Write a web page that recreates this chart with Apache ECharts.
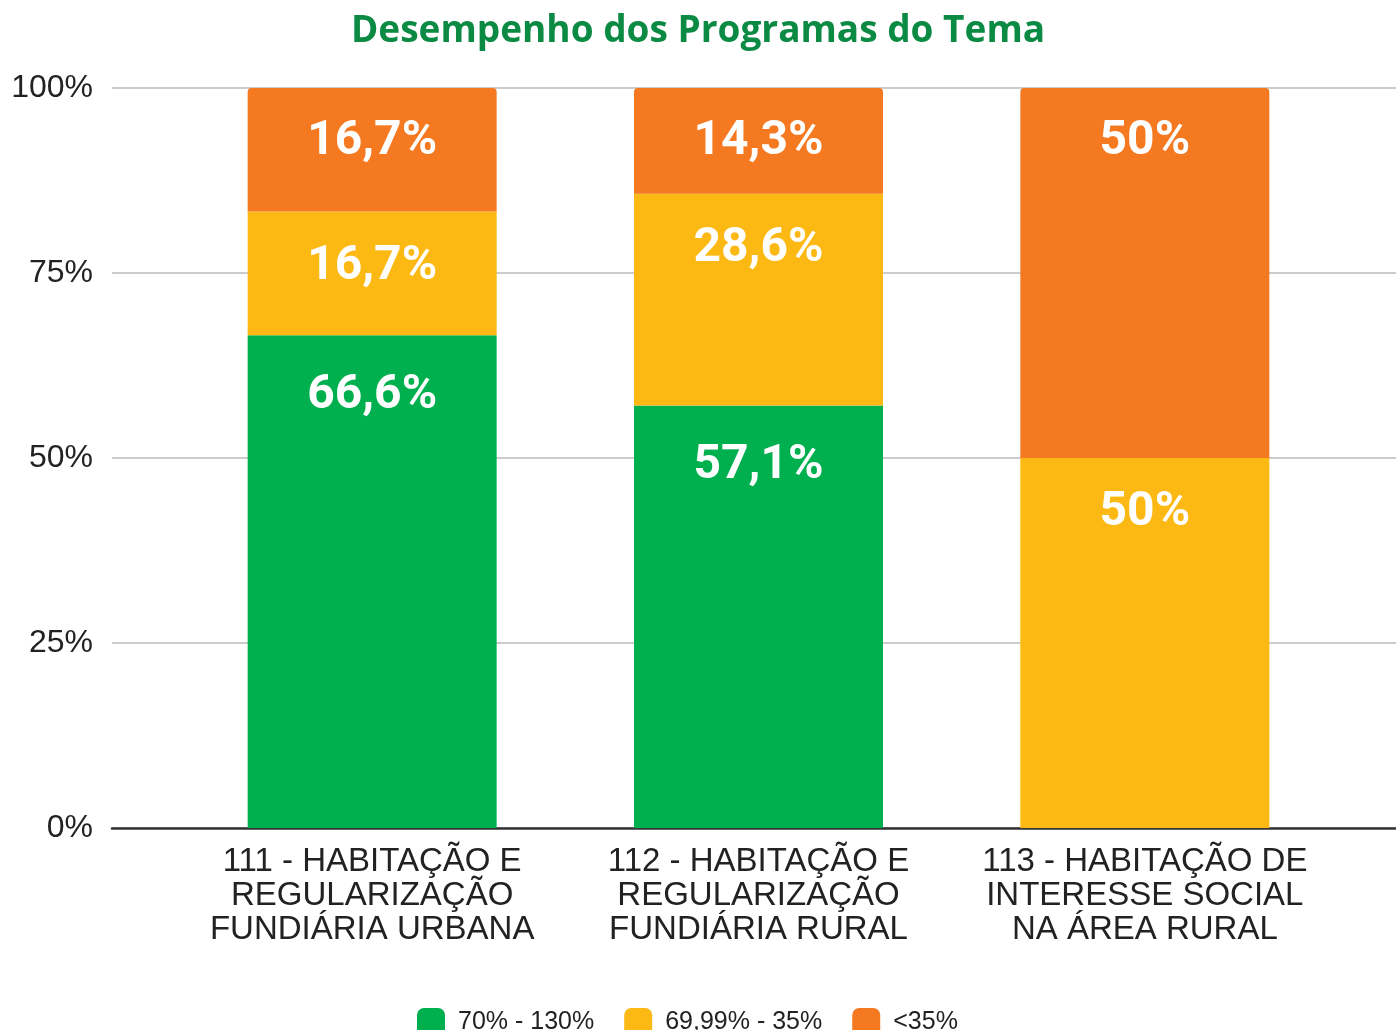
<!DOCTYPE html>
<html>
<head>
<meta charset="utf-8">
<title>Desempenho dos Programas do Tema</title>
<script src="https://cdn.jsdelivr.net/npm/echarts@6/dist/echarts.min.js"></script>
<style>
  html, body { margin: 0; padding: 0; background: #fff; }
  #chart { width: 1396px; height: 1030px; }
</style>
</head>
<body>
<div id="chart"></div>
<script>
const programas = [
  '111 - HABITAÇÃO E\nREGULARIZAÇÃO\nFUNDIÁRIA URBANA',
  '112 - HABITAÇÃO E\nREGULARIZAÇÃO\nFUNDIÁRIA RURAL',
  '113 - HABITAÇÃO DE\nINTERESSE SOCIAL\nNA ÁREA RURAL'
]
const faixas = ['70% - 130%', '69,99% - 35%', '<35%']
const verde = [66.6, 57.1, 0]
const amarelo = [16.7, 28.6, 50]
const laranja = [16.7, 14.3, 50]
const yTicks = [0, 25, 50, 75, 100]

const cores = ['#00b04f', '#fdb913', '#f47920']

const chart = echarts.init(document.getElementById('chart'))

function fmt(v) {
  return String(v).replace('.', ',') + '%'
}

function serie(name, data, color, dist, radius) {
  return {
    name: name,
    type: 'bar',
    stack: 'total',
    xAxisIndex: 1,
    yAxisIndex: 1,
    barWidth: 249,
    data: data,
    itemStyle: { color: color, borderRadius: radius },
    label: {
      show: true,
      position: 'insideTop',
      distance: dist,
      color: '#fff',
      fontFamily: 'Roboto',
      fontWeight: 'bold',
      fontSize: 48,
      lineHeight: 48,
      formatter: p => (p.value > 0 ? fmt(p.value) : '')
    },
    emphasis: { disabled: true }
  }
}

chart.setOption({
  animation: false,
  title: {
    text: 'Desempenho dos Programas do Tema',
    left: 'center',
    top: 8,
    textStyle: { color: '#0b8a43', fontFamily: 'Open Sans', fontWeight: 'bold', fontSize: 37 }
  },
  legend: {
    data: faixas,
    left: 417,
    top: 1008,
    padding: 0,
    itemWidth: 28,
    itemHeight: 28,
    itemGap: 30,
    icon: 'roundRect',
    textStyle: { color: '#222', fontFamily: 'Liberation Sans', fontSize: 25, padding: [0, 0, 0, 8] }
  },
  grid: [
    { left: 112, right: 0, top: 88, bottom: 202 },
    { left: 179, right: 58, top: 88, bottom: 202 }
  ],
  xAxis: [
    {
      type: 'category',
      gridIndex: 0,
      data: [''],
      axisLine: { lineStyle: { color: '#333', width: 2.5 } },
      axisTick: { show: false },
      axisLabel: { show: false }
    },
    {
      type: 'category',
      gridIndex: 1,
      data: programas,
      axisLine: { show: false },
      axisTick: { show: false },
      axisLabel: {
        interval: 0,
        margin: 17,
        color: '#222',
        fontFamily: 'Liberation Sans',
        fontSize: 33,
        lineHeight: 34
      }
    }
  ],
  yAxis: [
    {
      type: 'value',
      gridIndex: 0,
      min: yTicks[0],
      max: yTicks[yTicks.length - 1],
      interval: 25,
      axisLine: { show: false },
      axisTick: { show: false },
      axisLabel: {
        margin: 19,
        color: '#222',
        fontFamily: 'Liberation Sans',
        fontSize: 32,
        formatter: v => v + '%'
      },
      splitLine: { lineStyle: { color: '#cccccc', width: 2 } }
    },
    {
      type: 'value',
      gridIndex: 1,
      min: 0,
      max: 100,
      show: false
    }
  ],
  series: [
    serie(faixas[0], verde, cores[0], 37, 0),
    serie(faixas[1], amarelo, cores[1], 31, 0),
    serie(faixas[2], laranja, cores[2], 30, [4, 4, 0, 0])
  ]
})

window.addEventListener('resize', () => chart.resize())
</script>
</body>
</html>
